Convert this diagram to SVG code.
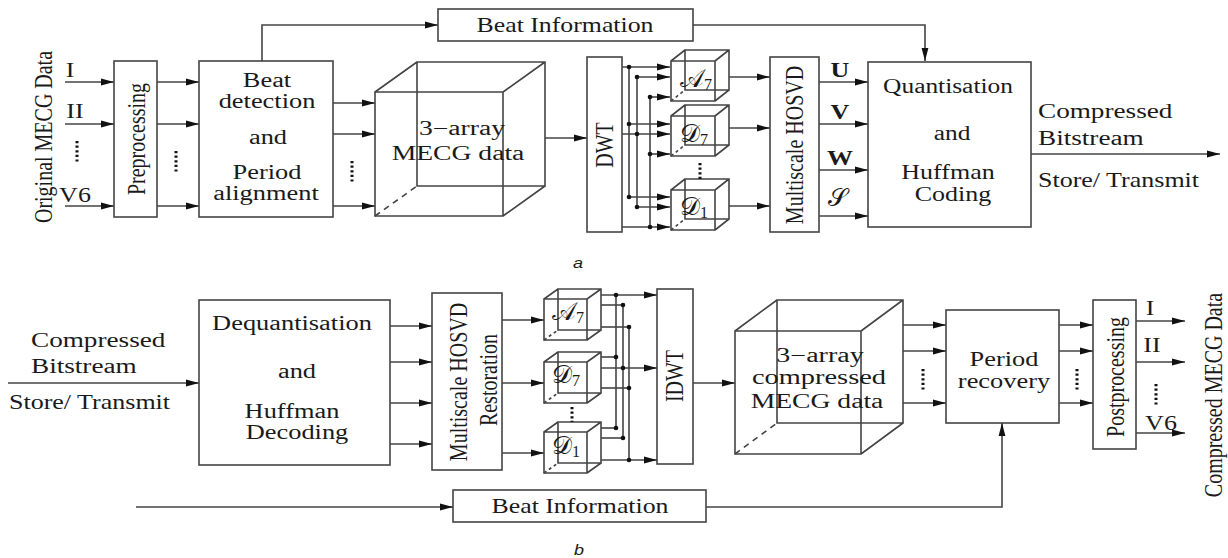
<svg xmlns="http://www.w3.org/2000/svg" width="1228" height="558" viewBox="0 0 1228 558">
<style>
.t{font-family:"Liberation Serif","Times New Roman",serif;font-size:20px;fill:#1a1a1a;text-anchor:middle}
.l{text-anchor:start}
.b{font-weight:bold}
.s{font-family:"DejaVu Serif","DejaVu Sans","Noto Sans",serif;font-size:25px;fill:#1a1a1a;text-anchor:start}
.sub{font-family:"Liberation Serif",serif;font-size:16px;fill:#1a1a1a}
.cap{font-family:"Liberation Sans",Arial,sans-serif;font-style:italic;font-size:15px;fill:#1a1a1a;text-anchor:middle}
.box{fill:#fff;stroke:#444;stroke-width:1.6}
.ln{fill:none;stroke:#444;stroke-width:1.6}
.dash{fill:none;stroke:#444;stroke-width:1.6;stroke-dasharray:6 5}
.ar{fill:none;stroke:#444;stroke-width:1.6;marker-end:url(#ah)}
.dots{stroke:#111;stroke-width:3;stroke-dasharray:2.2 2.4}
.dot{fill:#111}
</style>
<defs>
<marker id="ah" markerWidth="13" markerHeight="8" refX="13" refY="4" orient="auto" markerUnits="userSpaceOnUse"><path d="M0,0.6 L13,4 L0,7.4 z" fill="#111"/></marker>
</defs>
<rect width="1228" height="558" fill="#fff"/>

<!-- ================= Panel a ================= -->
<g id="input-label-a">
<text class="t" font-size="19.5" transform="translate(43,137) scale(1.25,1) rotate(-90)" y="7">Original MECG Data</text>
<text class="t" transform="translate(70,77) scale(1.3,1)">I</text>
<text class="t" transform="translate(75,118) scale(1.3,1)">II</text>
<text class="t" transform="translate(75,202) scale(1.3,1)">V6</text>
<line class="dots" x1="77" y1="141" x2="77" y2="163"/>
</g>

<g id="preprocessing">
<rect class="box" x="114" y="61" width="43" height="156"/>
<text class="t" transform="translate(136,139) scale(1.3,1) rotate(-90)" y="7">Preprocessing</text>
</g>

<g id="beat-detection">
<rect class="box" x="199" y="61" width="134" height="156"/>
<text class="t" transform="translate(267,87) scale(1.32,1)">Beat</text>
<text class="t" transform="translate(267,108) scale(1.32,1)">detection</text>
<text class="t" transform="translate(268,144) scale(1.32,1)">and</text>
<text class="t" transform="translate(267,179) scale(1.32,1)">Period</text>
<text class="t" transform="translate(266,200) scale(1.32,1)">alignment</text>
</g>

<g id="beat-info-a">
<rect class="box" x="438" y="9" width="255" height="32"/>
<text class="t" transform="translate(565,32) scale(1.29,1)">Beat Information</text>
</g>

<g id="cube-a">
<path class="ln" d="M375,92 h128 v124 h-128 z M417,62 h128 v124 h-128 z M375,92 L417,62 M503,92 L545,62 M503,216 L545,186"/>
<path class="dash" d="M375,216 L417,186"/>
<text class="t" transform="translate(462,135) scale(1.38,1)">3−array</text>
<text class="t" transform="translate(458,160) scale(1.38,1)">MECG data</text>
</g>

<g id="dwt">
<rect class="box" x="587" y="57" width="35" height="175"/>
<text class="t" transform="translate(604,145) scale(1.3,1) rotate(-90)" y="7">DWT</text>
</g>

<g id="cube-A7-a">
<path class="ln" d="M671,61 h44 v40 h-44 z M685,50 h44 v40 h-44 z M671,61 L685,50 M715,61 L729,50 M715,101 L729,90"/>
<path class="ln" stroke-dasharray="3 3" d="M671,101 L685,90"/>
<text class="s" x="680" y="87">𝒜<tspan class="sub" dy="3">7</tspan></text>
</g>
<g id="cube-D7-a">
<path class="ln" d="M671,116 h44 v40 h-44 z M685,105 h44 v40 h-44 z M671,116 L685,105 M715,116 L729,105 M715,156 L729,145"/>
<path class="ln" stroke-dasharray="3 3" d="M671,156 L685,145"/>
<text class="s" x="680" y="142">𝒟<tspan class="sub" dy="3">7</tspan></text>
</g>
<g id="cube-D1-a">
<path class="ln" d="M671,190 h44 v40 h-44 z M685,179 h44 v40 h-44 z M671,190 L685,179 M715,190 L729,179 M715,230 L729,219"/>
<path class="ln" stroke-dasharray="3 3" d="M671,230 L685,219"/>
<text class="s" x="680" y="215">𝒟<tspan class="sub" dy="3">1</tspan></text>
</g>
<g id="vdots-a"><line class="dots" x1="700" y1="163" x2="700" y2="179" stroke-width="2" stroke-dasharray="2 3"/></g>

<g id="hosvd">
<rect class="box" x="770" y="57" width="49" height="175"/>
<text class="t" transform="translate(794,145) scale(1.3,1) rotate(-90)" y="7">Multiscale HOSVD</text>
</g>

<g id="quantisation">
<rect class="box" x="868" y="62" width="163" height="165"/>
<text class="t" transform="translate(948,93) scale(1.27,1)">Quantisation</text>
<text class="t" transform="translate(952,140) scale(1.27,1)">and</text>
<text class="t" font-size="19.5" transform="translate(948,179) scale(1.3,1)">Huffman</text>
<text class="t" font-size="19.5" transform="translate(953,201) scale(1.3,1)">Coding</text>
</g>

<g id="output-label-a">
<text class="t l" transform="translate(1038,118) scale(1.36,1)">Compressed</text>
<text class="t l" transform="translate(1038,145) scale(1.36,1)">Bitstream</text>
<text class="t l" transform="translate(1038,187) scale(1.3,1)">Store/ Transmit</text>
</g>

<g id="uvws-labels">
<text class="t b" transform="translate(840,77) scale(1.3,1)">U</text>
<text class="t b" transform="translate(840,119) scale(1.3,1)">V</text>
<text class="t b" transform="translate(840,165) scale(1.3,1)">W</text>
<text class="s" x="828" y="206">𝒮</text>
</g>

<text class="cap" transform="translate(578,268) scale(1.2,1)">a</text>

<g id="connectors-a">
<line class="ar" x1="65" y1="82" x2="114" y2="82"/>
<line class="ar" x1="65" y1="124" x2="114" y2="124"/>
<line class="ar" x1="65" y1="206" x2="114" y2="206"/>
<line class="ar" x1="157" y1="82" x2="199" y2="82"/>
<line class="ar" x1="157" y1="124" x2="199" y2="124"/>
<line class="ar" x1="157" y1="206" x2="199" y2="206"/>
<line class="dots" x1="176" y1="151" x2="176" y2="173"/>
<polyline class="ar" points="262,61 262,25 438,25"/>
<polyline class="ar" points="693,25 925,25 925,61"/>
<line class="ar" x1="333" y1="103" x2="375" y2="103"/>
<line class="ar" x1="333" y1="134" x2="375" y2="134"/>
<line class="ar" x1="333" y1="206" x2="375" y2="206"/>
<line class="dots" x1="352" y1="161" x2="352" y2="183"/>
<line class="ar" x1="545" y1="138" x2="587" y2="138"/>
<!-- DWT bus -->
<line class="ar" x1="622" y1="67" x2="670" y2="67"/>
<line class="ar" x1="622" y1="134" x2="670" y2="134"/>
<line class="ar" x1="622" y1="227" x2="670" y2="227"/>
<line class="ln" x1="629" y1="67" x2="629" y2="197"/>
<line class="ln" x1="637" y1="77" x2="637" y2="207"/>
<line class="ln" x1="650" y1="97" x2="650" y2="227"/>
<line class="ar" x1="637" y1="77" x2="670" y2="77"/>
<line class="ar" x1="650" y1="97" x2="670" y2="97"/>
<line class="ar" x1="629" y1="124" x2="670" y2="124"/>
<line class="ar" x1="650" y1="154" x2="670" y2="154"/>
<line class="ar" x1="629" y1="197" x2="670" y2="197"/>
<line class="ar" x1="637" y1="207" x2="670" y2="207"/>
<circle class="dot" cx="629" cy="67" r="2.3"/>
<circle class="dot" cx="637" cy="77" r="2.3"/>
<circle class="dot" cx="650" cy="97" r="2.3"/>
<circle class="dot" cx="629" cy="124" r="2.3"/>
<circle class="dot" cx="637" cy="134" r="2.3"/>
<circle class="dot" cx="650" cy="154" r="2.3"/>
<circle class="dot" cx="629" cy="197" r="2.3"/>
<circle class="dot" cx="637" cy="207" r="2.3"/>
<circle class="dot" cx="650" cy="227" r="2.3"/>
<line class="ar" x1="729" y1="77" x2="770" y2="77"/>
<line class="ar" x1="729" y1="128" x2="770" y2="128"/>
<line class="ar" x1="729" y1="206" x2="770" y2="206"/>
<line class="ar" x1="819" y1="82" x2="868" y2="82"/>
<line class="ar" x1="819" y1="124" x2="868" y2="124"/>
<line class="ar" x1="819" y1="170" x2="868" y2="170"/>
<line class="ar" x1="819" y1="216" x2="868" y2="216"/>
<line class="ar" x1="1031" y1="154" x2="1220" y2="154"/>
</g>

<!-- ================= Panel b ================= -->
<g id="input-label-b">
<text class="t l" transform="translate(31,347) scale(1.36,1)">Compressed</text>
<text class="t l" transform="translate(31,373) scale(1.36,1)">Bitstream</text>
<text class="t l" transform="translate(9,409) scale(1.3,1)">Store/ Transmit</text>
</g>

<g id="dequantisation">
<rect class="box" x="199" y="300" width="191" height="165"/>
<text class="t" transform="translate(292,330) scale(1.32,1)">Dequantisation</text>
<text class="t" transform="translate(297,378) scale(1.32,1)">and</text>
<text class="t" transform="translate(292,418) scale(1.32,1)">Huffman</text>
<text class="t" transform="translate(297,439) scale(1.32,1)">Decoding</text>
</g>

<g id="hosvd-restoration">
<rect class="box" x="432" y="293" width="70" height="177"/>
<text class="t" transform="translate(458,382) scale(1.3,1) rotate(-90)" y="7">Multiscale HOSVD</text>
<text class="t" transform="translate(488,380) scale(1.3,1) rotate(-90)" y="7">Restoration</text>
</g>

<g id="cube-A7-b">
<path class="ln" d="M544,299 h43 v41 h-43 z M558,289 h43 v41 h-43 z M544,299 L558,289 M587,299 L601,289 M587,340 L601,330"/>
<path class="ln" stroke-dasharray="3 3" d="M544,340 L558,330"/>
<text class="s" x="552" y="320">𝒜<tspan class="sub" dy="3">7</tspan></text>
</g>
<g id="cube-D7-b">
<path class="ln" d="M544,362 h43 v41 h-43 z M558,352 h43 v41 h-43 z M544,362 L558,352 M587,362 L601,352 M587,403 L601,393"/>
<path class="ln" stroke-dasharray="3 3" d="M544,403 L558,393"/>
<text class="s" x="552" y="383">𝒟<tspan class="sub" dy="3">7</tspan></text>
</g>
<g id="cube-D1-b">
<path class="ln" d="M544,432 h43 v41 h-43 z M558,422 h43 v41 h-43 z M544,432 L558,422 M587,432 L601,422 M587,473 L601,463"/>
<path class="ln" stroke-dasharray="3 3" d="M544,473 L558,463"/>
<text class="s" x="552" y="454">𝒟<tspan class="sub" dy="3">1</tspan></text>
</g>
<g id="vdots-b"><line class="dots" x1="572" y1="407" x2="572" y2="422" stroke-width="2" stroke-dasharray="2 3"/></g>

<g id="idwt">
<rect class="box" x="657" y="289" width="36" height="175"/>
<text class="t" transform="translate(674,376) scale(1.3,1) rotate(-90)" y="7">IDWT</text>
</g>

<g id="cube-b">
<path class="ln" d="M735,331 h126 v123 h-126 z M777,300 h126 v123 h-126 z M735,331 L777,300 M861,331 L903,300 M861,454 L903,423"/>
<path class="dash" d="M735,454 L777,423"/>
<text class="t" transform="translate(820,362) scale(1.4,1)">3−array</text>
<text class="t" transform="translate(819,384) scale(1.42,1)">compressed</text>
<text class="t" transform="translate(817,408) scale(1.38,1)">MECG data</text>
</g>

<g id="period-recovery">
<rect class="box" x="946" y="310" width="113" height="113"/>
<text class="t" transform="translate(1004,366) scale(1.32,1)">Period</text>
<text class="t" transform="translate(1004,388) scale(1.32,1)">recovery</text>
</g>

<g id="postprocessing">
<rect class="box" x="1093" y="300" width="43" height="149"/>
<text class="t" transform="translate(1115,377) scale(1.3,1) rotate(-90)" y="7">Postprocessing</text>
</g>

<g id="output-label-b">
<text class="t" transform="translate(1150,315) scale(1.3,1)">I</text>
<text class="t" transform="translate(1152,352) scale(1.3,1)">II</text>
<text class="t" transform="translate(1161,430) scale(1.3,1)">V6</text>
<line class="dots" x1="1156" y1="384" x2="1156" y2="406"/>
<text class="t" font-size="20.5" transform="translate(1213,395) scale(1.25,1) rotate(-90)" y="7">Compressed MECG Data</text>
</g>

<g id="beat-info-b">
<rect class="box" x="453" y="490" width="253" height="32"/>
<text class="t" transform="translate(580,513) scale(1.29,1)">Beat Information</text>
</g>

<text class="cap" transform="translate(579,555) scale(1.2,1)">b</text>

<g id="connectors-b">
<line class="ar" x1="8" y1="383" x2="199" y2="383"/>
<line class="ar" x1="390" y1="326" x2="432" y2="326"/>
<line class="ar" x1="390" y1="362" x2="432" y2="362"/>
<line class="ar" x1="390" y1="403" x2="432" y2="403"/>
<line class="ar" x1="390" y1="444" x2="432" y2="444"/>
<line class="ar" x1="502" y1="320" x2="544" y2="320"/>
<line class="ar" x1="502" y1="383" x2="544" y2="383"/>
<line class="ar" x1="502" y1="453" x2="544" y2="453"/>
<!-- IDWT bus -->
<line class="ar" x1="601" y1="295" x2="657" y2="295"/>
<line class="ar" x1="601" y1="368" x2="657" y2="368"/>
<line class="ar" x1="601" y1="460" x2="657" y2="460"/>
<line class="ln" x1="601" y1="305" x2="623" y2="305"/>
<line class="ln" x1="601" y1="327" x2="629" y2="327"/>
<line class="ln" x1="601" y1="357" x2="616" y2="357"/>
<line class="ln" x1="601" y1="388" x2="629" y2="388"/>
<line class="ln" x1="601" y1="428" x2="616" y2="428"/>
<line class="ln" x1="601" y1="438" x2="623" y2="438"/>
<line class="ln" x1="616" y1="295" x2="616" y2="428"/>
<line class="ln" x1="623" y1="305" x2="623" y2="438"/>
<line class="ln" x1="629" y1="327" x2="629" y2="460"/>
<circle class="dot" cx="616" cy="295" r="2.3"/>
<circle class="dot" cx="623" cy="305" r="2.3"/>
<circle class="dot" cx="629" cy="327" r="2.3"/>
<circle class="dot" cx="616" cy="357" r="2.3"/>
<circle class="dot" cx="623" cy="368" r="2.3"/>
<circle class="dot" cx="629" cy="388" r="2.3"/>
<circle class="dot" cx="616" cy="428" r="2.3"/>
<circle class="dot" cx="623" cy="438" r="2.3"/>
<circle class="dot" cx="629" cy="460" r="2.3"/>
<line class="ar" x1="693" y1="383" x2="735" y2="383"/>
<line class="ar" x1="903" y1="325" x2="946" y2="325"/>
<line class="ar" x1="903" y1="351" x2="946" y2="351"/>
<line class="ar" x1="903" y1="403" x2="946" y2="403"/>
<line class="dots" x1="923" y1="369" x2="923" y2="391"/>
<line class="ar" x1="1059" y1="325" x2="1093" y2="325"/>
<line class="ar" x1="1059" y1="351" x2="1093" y2="351"/>
<line class="ar" x1="1059" y1="403" x2="1093" y2="403"/>
<line class="dots" x1="1077" y1="369" x2="1077" y2="391"/>
<line class="ar" x1="1136" y1="321" x2="1185" y2="321"/>
<line class="ar" x1="1136" y1="362" x2="1185" y2="362"/>
<line class="ar" x1="1136" y1="433" x2="1185" y2="433"/>
<line class="ar" x1="136" y1="507" x2="453" y2="507"/>
<polyline class="ar" points="706,507 1002,507 1002,423"/>
</g>
</svg>
